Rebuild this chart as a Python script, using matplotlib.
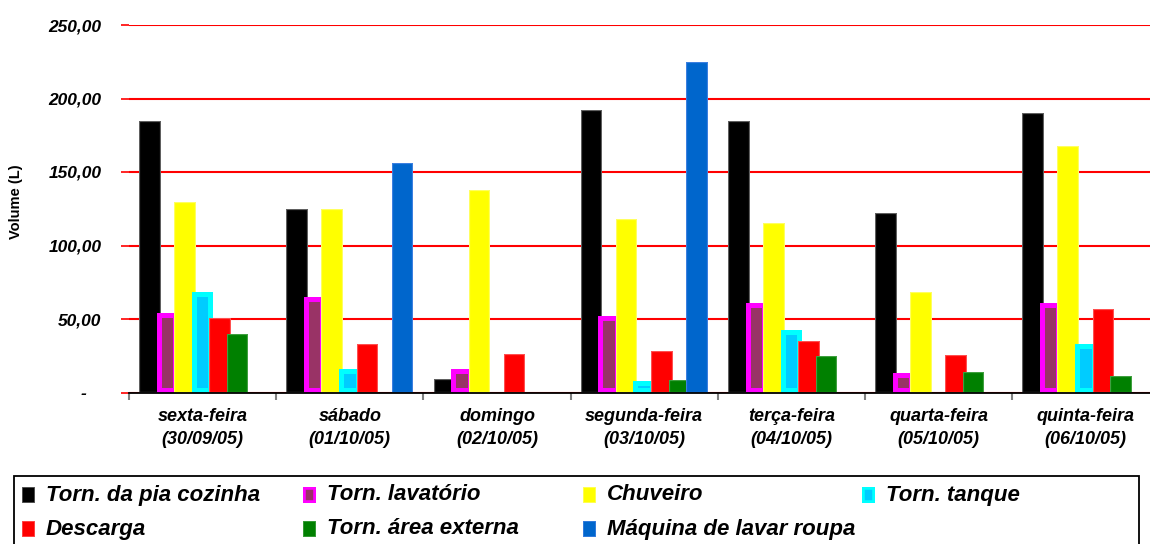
import numpy as np
import matplotlib
matplotlib.use("Agg")
import matplotlib.pyplot as plt
from matplotlib.patches import Rectangle

nan = np.nan

dias = ["sexta-feira\n(30/09/05)", "sábado\n(01/10/05)", "domingo\n(02/10/05)",
        "segunda-feira\n(03/10/05)", "terça-feira\n(04/10/05)",
        "quarta-feira\n(05/10/05)", "quinta-feira\n(06/10/05)"]

pia_cozinha = [185.0, 125.0, 9.0, 192.0, 185.0, 122.0, 190.0]
lavatorio = [54.0, 65.0, 16.0, 52.0, 61.0, 13.5, 61.0]
chuveiro = [129.5, 125.0, 137.5, 118.0, 115.0, 68.5, 167.5]
tanque = [68.5, 16.0, nan, 8.0, 42.5, nan, 33.0]
descarga = [51.0, 33.0, 26.0, 28.0, 35.0, 25.5, 57.0]
area_externa = [39.5, nan, nan, 8.5, 24.5, 14.0, 11.0]
maquina = [nan, 156.0, nan, 225.0, nan, nan, nan]

nomes = ["Torn. da pia cozinha", "Torn. lavatório", "Chuveiro", "Torn. tanque",
         "Descarga", "Torn. área externa", "Máquina de lavar roupa"]
series = [pia_cozinha, lavatorio, chuveiro, tanque, descarga, area_externa, maquina]

# (face, edge, edge width in pt) -- edge is drawn only inside the bar
estilos = [
    ("#000000", "#606060", 1.6),
    ("#993366", "#FF00FF", 7.2),
    ("#FFFF00", "#FFFF60", 1.6),
    ("#00CCFF", "#00FFFF", 7.2),
    ("#FF0000", "#FF5050", 1.6),
    ("#008000", "#40A040", 1.6),
    ("#0066CC", "#3C80E0", 1.6),
]

W, H = 1150, 544
fonte = dict(family="Liberation Sans", weight="bold", style="italic")

fig = plt.figure(figsize=(W / 100, H / 100), dpi=100)
ax = fig.add_axes([129 / W, (H - 392.5) / H, 1030.4 / W, 367.5 / H])

x = np.arange(len(dias))
passo = 0.1192
largura = 0.1465
for i, (vals, (face, borda, lw)) in enumerate(zip(series, estilos)):
    barras = ax.bar(x + (i - 3) * passo, vals, largura, color=face,
                    edgecolor=borda, linewidth=lw, zorder=2)
    for b in barras:
        b.set_clip_path(b)

ax.set_xlim(-0.5, len(dias) - 0.5)
ax.set_ylim(0, 250)
ax.set_yticks([0, 50, 100, 150, 200, 250])
ax.set_yticklabels(["-   ", "50,00", "100,00", "150,00", "200,00", "250,00"],
                   fontsize=12.5, **fonte)
ax.tick_params(axis="y", color="red", length=6, width=1.2, pad=14)
ax.yaxis.grid(True, color="red", linewidth=1.5)
ax.set_axisbelow(True)

ax.set_xticks(x)
ax.set_xticklabels(dias, fontsize=13, linespacing=1.45, **fonte)
ax.set_xticks(np.arange(-0.5, len(dias)), minor=True)
ax.tick_params(axis="x", which="major", length=0, pad=11)
ax.tick_params(axis="x", which="minor", length=5, width=1.5, color="#808080")

for s in ("left", "top", "right"):
    ax.spines[s].set_visible(False)
ax.spines["bottom"].set_linewidth(1.3)

fig.text(16 / W, (H - 202) / H, "Volume (L)", rotation=90, ha="center", va="center",
         fontsize=10.5, family="Liberation Sans", weight="bold")

# legenda desenhada a mao, em pixels da figura
fig.add_artist(Rectangle((14 / W, -0.05), 1125 / W, (H - 476) / H + 0.05,
                         transform=fig.transFigure, fill=False, edgecolor="black", lw=1.3))
colunas = [22, 303, 583, 862]
linhas = [495, 529]
for k, (nome, (face, borda, lw)) in enumerate(zip(nomes, estilos)):
    cx = colunas[k % 4]
    cy = linhas[k // 4]
    lw_m = 4.0 if lw > 2 else 1.2
    m = Rectangle((cx / W, (H - cy - 8) / H), 13 / W, 16 / H, transform=fig.transFigure,
                  facecolor=face, edgecolor=borda, linewidth=lw_m)
    fig.add_artist(m)
    m.set_clip_path(m)
    fig.text((cx + 24) / W, (H - cy) / H, nome, ha="left", va="center",
             fontsize=16, **fonte)

fig.savefig("out.png", dpi=100)
